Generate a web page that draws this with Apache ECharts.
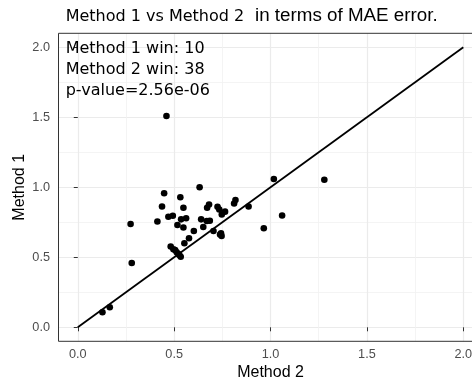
<!DOCTYPE html>
<html><head><meta charset="utf-8">
<script src="https://cdn.jsdelivr.net/npm/echarts@6/dist/echarts.min.js"></script>
<style>html,body{margin:0;padding:0;background:#fff}#c{width:472px;height:380px}</style>
</head><body><div id="c"></div>
<script>
// Method 2 MAE (x) and Method 1 MAE (y) per case
const method2 = [0.128,0.166,0.274,0.280,0.413,0.437,0.448,0.460,0.470,0.493,0.517,0.532,0.536,0.548,0.548,0.562,0.632,0.640,0.651,0.669,0.685,0.671,0.681,0.704,0.725,0.734,0.747,0.764,0.743,0.746,0.602,0.811,0.818,0.886,0.965,1.017,1.060,1.279,0.577,0.553,0.482,0.496,0.513,0.527,0.534,0.505,0.523,0.738];
const method1 = [0.107,0.143,0.738,0.459,0.756,0.863,0.957,1.509,0.790,0.797,0.731,0.929,0.771,0.854,0.713,0.779,1.000,0.771,0.716,0.759,0.761,0.854,0.877,0.688,0.861,0.841,0.806,0.826,0.671,0.652,0.688,0.884,0.909,0.863,0.707,1.059,0.799,1.054,0.636,0.600,0.577,0.557,0.536,0.516,0.504,0.552,0.524,0.663];
const identityLine = [[0, 0], [2, 2]];
const majorTicks = [0, 0.5, 1, 1.5, 2];
const minorTicks = [0.25, 0.75, 1.25, 1.75];
const titleLeft = 'Method 1 vs Method 2';
const titleRight = 'in terms of MAE error.';
const annotationLines = ['Method 1 win: 10', 'Method 2 win: 38', 'p-value=2.56e-06'];
const xName = 'Method 2';
const yName = 'Method 1';

const points = method2.map((x, i) => [x, method1[i]]);
const tickFont = {color: '#4d4d4d', fontSize: 12.7, fontFamily: 'Liberation Sans'};
const nameFont = {color: '#000', fontSize: 16, fontFamily: 'Liberation Sans'};

function majorAxis(pos, name, margin, gap) {
  return {
    type: 'value', min: -0.1, max: 2.1, position: pos,
    axisLine: {show: false},
    axisTick: {show: true, length: 4, customValues: majorTicks, lineStyle: {color: '#333', width: 1}},
    axisLabel: {customValues: majorTicks, formatter: v => v.toFixed(1), margin: margin, ...tickFont},
    splitLine: {show: true, lineStyle: {color: '#ebebeb', width: 1.2}},
    name: name, nameLocation: 'middle', nameGap: gap, nameMoveOverlap: false, nameTextStyle: nameFont
  };
}
function minorAxis(pos) {
  return {
    type: 'value', min: -0.1, max: 2.1, position: pos,
    axisLine: {show: false}, axisTick: {show: false, customValues: minorTicks},
    axisLabel: {show: false, customValues: minorTicks},
    splitLine: {show: true, lineStyle: {color: '#f1f1f1', width: 0.8}}
  };
}

const chart = echarts.init(document.getElementById('c'), null, {renderer: 'canvas'});
chart.setOption({
  animation: false,
  backgroundColor: '#fff',
  grid: {left: 58.5, top: 33.3, width: 424.1, height: 308, containLabel: false, outerBoundsMode: 'none', show: true, borderColor: '#333', borderWidth: 1, backgroundColor: 'transparent', z: 3},
  xAxis: [majorAxis('bottom', xName, 6.5, 23.5), minorAxis('top')],
  yAxis: [majorAxis('left', yName, 8.5, 31), minorAxis('right')],
  series: [
    {type: 'line', data: identityLine, showSymbol: false, symbol: 'none', lineStyle: {color: '#000', width: 1.8}, z: 4},
    {type: 'scatter', data: points, symbolSize: 6.6, itemStyle: {color: '#000', opacity: 1}, z: 5}
  ],
  graphic: [
    {type: 'text', left: 65.7, top: 8.5, style: {text: titleLeft, fontFamily: 'DejaVu Sans', fontSize: 16, fill: '#000'}},
    {type: 'text', left: 255, top: 6.5, style: {text: titleRight, fontFamily: 'Liberation Sans', fontSize: 18.8, fill: '#000'}},
    {type: 'text', left: 65.7, top: 38.8, z: 10, style: {text: annotationLines.join('\n'), fontFamily: 'DejaVu Sans', fontSize: 16, lineHeight: 20.7, fill: '#000'}}
  ]
});
</script></body></html>
